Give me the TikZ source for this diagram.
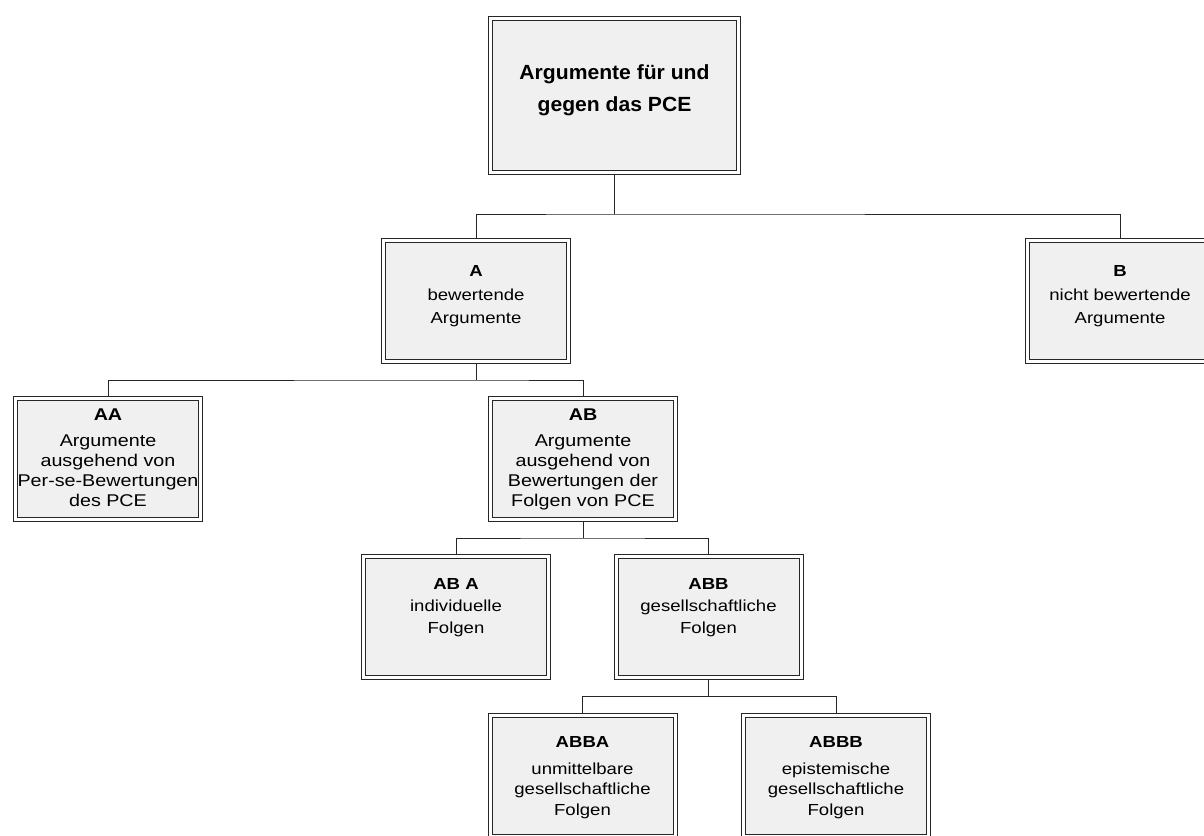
\documentclass[tikz,border=0pt]{standalone}
\usepackage{fontspec}
\setmainfont{Liberation Sans}
\newfontfamily\boxfont[FakeStretch=1.16]{Liberation Sans}
\newfontfamily\rootfont[FakeStretch=1.03]{Liberation Sans}
\definecolor{boxfill}{HTML}{F0F0F0}
\definecolor{edge}{HTML}{262626}
\begin{document}
\begin{tikzpicture}[x=1pt,y=-1pt,
  box/.style={draw=edge, double=white, double distance=3pt, line width=1pt,
    fill=boxfill, inner sep=0pt, outer sep=2.5pt,
    minimum width=185pt, minimum height=121pt},
  rootbox/.style={box, minimum width=248pt, minimum height=154pt},
  tx/.style={anchor=north, align=center, inner sep=0pt, text=black},
  txA/.style={tx, font=\boxfont\fontsize{16}{23.5}\selectfont},
  txAA/.style={tx, font=\boxfont\fontsize{17}{20}\selectfont},
  txABA/.style={tx, font=\boxfont\fontsize{16}{22}\selectfont},
  txABBA/.style={tx, font=\boxfont\fontsize{16}{20.5}\selectfont},
  txroot/.style={tx, font=\rootfont\bfseries\fontsize{20.5}{32.5}\selectfont},
  conn/.style={draw=edge, line width=1pt}
]
\useasboundingbox (0,0) rectangle (1204,835);
\clip (0,0) rectangle (1204,835);

% boxes
\node[rootbox] (root) at (614.5,95.5) {};
\node[box] (A) at (476,301) {};
\node[box] (B) at (1120,301) {};
\node[box] (AA) at (108,459) {};
\node[box] (AB) at (583,459) {};
\node[box] (ABA) at (456,617) {};
\node[box] (ABB) at (708.5,617) {};
\node[box] (ABBA) at (582.5,776) {};
\node[box] (ABBB) at (836,776) {};

% texts
\node[txroot] (rootT) at ([yshift=-48pt]root.north) {Argumente für und\\gegen das PCE};
\node[txA] (AT) at ([yshift=-27.5pt]A.north) {\textbf{A}\\bewertende\\Argumente};
\node[txA] (BT) at ([yshift=-27.5pt]B.north) {\textbf{B}\\nicht bewertende\\Argumente};
\node[txAA] (AAT) at ([yshift=-13pt]AA.north) {\textbf{AA}\\[6pt]Argumente\\ausgehend von\\Per-se-Bewertungen\\des PCE};
\node[txAA] (ABT) at ([yshift=-13pt]AB.north) {\textbf{AB}\\[6pt]Argumente\\ausgehend von\\Bewertungen der\\Folgen von PCE};
\node[txABA] (ABAT) at ([yshift=-24pt]ABA.north) {\textbf{AB A}\\individuelle\\Folgen};
\node[txABA] (ABBT) at ([yshift=-24pt]ABB.north) {\textbf{ABB}\\gesellschaftliche\\Folgen};
\node[txABBA] (ABBAT) at ([yshift=-23pt]ABBA.north) {\textbf{ABBA}\\[6.5pt]unmittelbare\\gesellschaftliche\\Folgen};
\node[txABBA] (ABBBT) at ([yshift=-23pt]ABBB.north) {\textbf{ABBB}\\[6.5pt]epistemische\\gesellschaftliche\\Folgen};

% tree connectors
\coordinate (j0) at (614.5,214);
\coordinate (j1) at (476,380);
\coordinate (j2) at (583,538);
\coordinate (j3) at (708.5,696);
\draw[conn] (root.south) -- (j0);
\draw[conn] (A.north) |- (j0) -| (B.north);
\draw[conn] (A.south) -- (j1);
\draw[conn] (AA.north) |- (j1) -| (AB.north);
\draw[conn] (AB.south) -- (j2);
\draw[conn] (ABA.north) |- (j2) -| (ABB.north);
\draw[conn] (ABB.south) -- (j3);
\draw[conn] (ABBA.north) |- (j3) -| (ABBB.north);
\end{tikzpicture}
\end{document}
